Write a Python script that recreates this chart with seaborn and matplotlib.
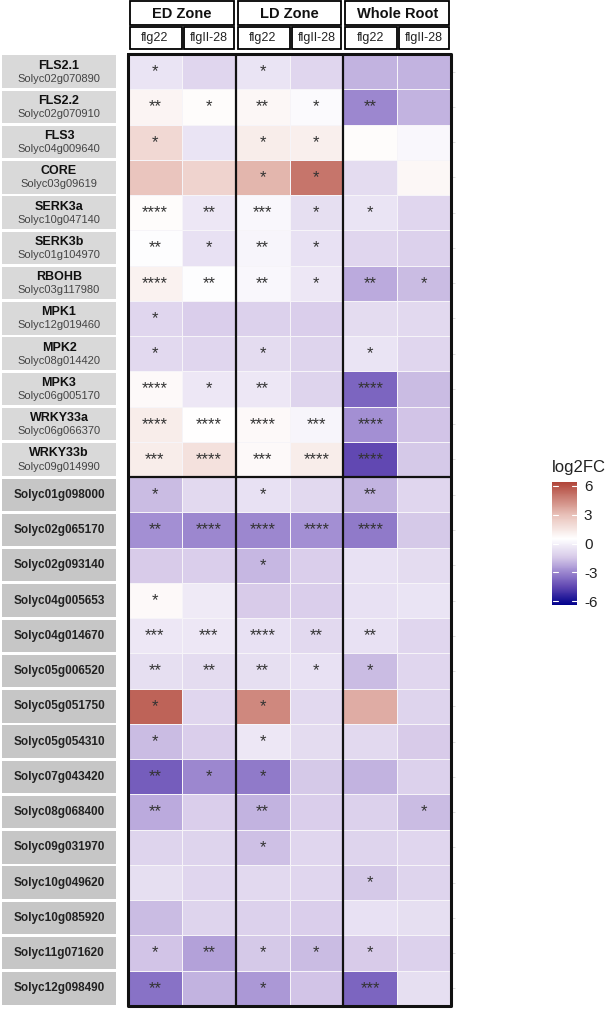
import matplotlib
matplotlib.use("Agg")
import matplotlib.pyplot as plt
from matplotlib.colors import LinearSegmentedColormap
from matplotlib.patches import Rectangle
import pandas as pd
import seaborn as sns
import numpy as np

sns.set_style("white")
plt.rcParams['font.family'] = ['Liberation Sans', 'DejaVu Sans']

# row labels
gene_names = ["FLS2.1", "FLS2.2", "FLS3", "CORE", "SERK3a", "SERK3b", "RBOHB",
              "MPK1", "MPK2", "MPK3", "WRKY33a", "WRKY33b"]
gene_ids = ["Solyc02g070890", "Solyc02g070910", "Solyc04g009640", "Solyc03g09619",
            "Solyc10g047140", "Solyc01g104970", "Solyc03g117980", "Solyc12g019460",
            "Solyc08g014420", "Solyc06g005170", "Solyc06g066370", "Solyc09g014990"]
other_ids = ["Solyc01g098000", "Solyc02g065170", "Solyc02g093140", "Solyc04g005653",
             "Solyc04g014670", "Solyc05g006520", "Solyc05g051750", "Solyc05g054310",
             "Solyc07g043420", "Solyc08g068400", "Solyc09g031970", "Solyc10g049620",
             "Solyc10g085920", "Solyc11g071620", "Solyc12g098490"]

zones = ["ED Zone", "LD Zone", "Whole Root"]
treatments = ["flg22", "flgII-28"]

# log2FC per column
ed_flg22 = [-0.5, 0.9, 2.0, 2.8, 0.6, 0.4, 1.0, -1.0, -0.9, 0.7, 1.2, 1.2,
            -1.8, -2.8, -1.4, 0.7, -0.4, -0.7, 5.5, -1.8, -4.0, -2.2, -1.1, -0.7, -1.8, -1.6, -3.5]
ed_flg2 = [-1.0, 0.6, -0.5, 2.2, -0.4, -0.6, 0.4, -1.3, -1.0, -0.4, 0.5, 1.7,
           -0.9, -3.0, -1.3, -0.3, -0.4, -0.8, -1.0, -1.3, -3.0, -1.3, -1.1, -1.0, -1.1, -2.4, -2.0]
ld_flg22 = [-0.5, 0.8, 1.2, 3.3, 0.2, 0.1, 0.2, -1.2, -0.8, -0.4, 0.7, 0.7,
            -0.6, -3.0, -1.9, -1.4, -0.6, -0.7, 4.5, -0.4, -3.3, -2.0, -1.7, -0.9, -1.2, -1.5, -2.6]
ld_flg2 = [-1.0, 0.3, 1.1, 5.0, -0.7, -0.6, -0.4, -1.3, -1.1, -1.1, 0.1, 1.2,
           -0.9, -2.8, -1.3, -1.3, -0.9, -0.6, -0.9, -0.8, -1.5, -1.3, -1.0, -1.0, -1.3, -1.8, -1.6]
wr_flg22 = [-2.0, -3.0, 0.6, -0.8, -0.5, -1.0, -2.2, -0.8, -0.5, -3.8, -2.8, -4.5,
            -2.0, -3.3, -0.6, -0.6, -0.6, -1.8, 3.5, -0.9, -2.0, -1.2, -1.1, -1.5, -0.6, -1.4, -3.8]
wr_flg2 = [-2.0, -2.0, 0.2, 0.8, -1.0, -1.2, -1.8, -0.9, -1.0, -1.8, -1.6, -1.5,
           -1.0, -1.5, -0.8, -0.5, -1.0, -1.0, -1.1, -1.4, -1.2, -1.8, -1.0, -1.1, -0.7, -1.2, -0.7]

# significance
sig_ed_flg22 = ["*", "**", "*", "", "****", "**", "****", "*", "*", "****", "****", "***",
                "*", "**", "", "*", "***", "**", "*", "*", "**", "**", "", "", "", "*", "**"]
sig_ed_flg2 = ["", "*", "", "", "**", "*", "**", "", "", "*", "****", "****",
               "", "****", "", "", "***", "**", "", "", "*", "", "", "", "", "**", ""]
sig_ld_flg22 = ["*", "**", "*", "*", "***", "**", "**", "", "*", "**", "****", "***",
                "*", "****", "*", "", "****", "**", "*", "*", "*", "**", "*", "", "", "*", "*"]
sig_ld_flg2 = ["", "*", "*", "*", "*", "*", "*", "", "", "", "***", "****",
               "", "****", "", "", "**", "*", "", "", "", "", "", "", "", "*", ""]
sig_wr_flg22 = ["", "**", "", "", "*", "", "**", "", "*", "****", "****", "****",
                "**", "****", "", "", "**", "*", "", "", "", "", "", "*", "", "*", "***"]
sig_wr_flg2 = ["", "", "", "", "", "", "*", "", "", "", "", "",
               "", "", "", "", "", "", "", "", "", "*", "", "", "", "", ""]

row_keys = gene_ids + other_ids
cols = ["ED_flg22", "ED_flgII-28", "LD_flg22", "LD_flgII-28", "WR_flg22", "WR_flgII-28"]
df = pd.DataFrame(dict(zip(cols, [ed_flg22, ed_flg2, ld_flg22, ld_flg2, wr_flg22, wr_flg2])),
                  index=row_keys)
stars = pd.DataFrame(dict(zip(cols, [sig_ed_flg22, sig_ed_flg2, sig_ld_flg22, sig_ld_flg2,
                                     sig_wr_flg22, sig_wr_flg2])), index=row_keys)

vmin, vmax = -6.4, 6.4
nodes = [(-6.4, "#00008b"), (-4.5, "#6148b2"), (-3.0, "#9b86cf"), (-1.5, "#d5c8e8"),
         (0.5, "#ffffff"), (3.0, "#e8c0b8"), (6.4, "#b04438")]
cmap = LinearSegmentedColormap.from_list(
    "l2fc", [((v - vmin) / (vmax - vmin), c) for v, c in nodes])

W, H = 606, 1009
fig = plt.figure(figsize=(W / 100, H / 100), dpi=100)

def fx(px):
    return px / W

def fy(px):
    return 1 - px / H

top, bottom = 54, 1006
left, right = 128, 451
ax = fig.add_axes([fx(left), fy(bottom), fx(right - left), (bottom - top) / H])
cax = fig.add_axes([fx(552), fy(605), fx(25), 123 / H])

sns.heatmap(df, ax=ax, cmap=cmap, vmin=vmin, vmax=vmax, annot=stars, fmt="",
            annot_kws={"fontsize": 12, "color": "#333333"},
            linewidths=0.4, linecolor="#f6f4f8", cbar_ax=cax)

ax.set_xticks([])
ax.set_xlabel("")
ax.set_ylabel("")
ax.yaxis.tick_right()
ax.tick_params(axis="y", right=True, left=False, length=3, width=0.6,
               color="#d8d8d8", labelright=False, labelleft=False)
nrow = len(row_keys)
ax.plot([0, 6, 6, 0, 0], [0, 0, nrow, nrow, 0], color="#111111", lw=2.2, clip_on=False)
for xz in [2, 4]:
    ax.plot([xz, xz], [0, nrow], color="#111111", lw=1.6)
ax.plot([0, 6], [len(gene_names), len(gene_names)], color="#111111", lw=1.6)

# colorbar
cb = ax.collections[0].colorbar
cb.set_ticks([6, 3, 0, -3, -6])
cb.set_ticklabels(["6", "3", "0", "-3", "-6"])
cb.outline.set_visible(False)
cax.tick_params(length=0, labelsize=11, pad=5, colors="#222222")
for t in [6, 3, 0, -3, -6]:
    cax.plot([0.02, 0.22], [t, t], color="white", lw=0.8, transform=cax.get_yaxis_transform())
    cax.plot([0.78, 0.98], [t, t], color="white", lw=0.8, transform=cax.get_yaxis_transform())
cax.set_title("log2FC", fontsize=12, loc="left", pad=7, color="#222222")

# header boxes
hax = fig.add_axes([fx(left), fy(51), fx(right - left), 51 / H])
hax.set_xlim(0, 6)
hax.set_ylim(51, 0)
hax.axis("off")
for z, zname in enumerate(zones):
    hax.add_patch(Rectangle((2 * z + 0.04, 1), 1.92, 24, facecolor="white",
                            edgecolor="black", lw=1.3))
    hax.text(2 * z + 1, 13.5, zname, ha="center", va="center", fontsize=10.5,
             fontweight="bold", color="#111111")
    for k, tr in enumerate(treatments):
        j = 2 * z + k
        hax.add_patch(Rectangle((j + 0.04, 27), 0.96 if k == 0 else 0.92, 22,
                                facecolor="white", edgecolor="black", lw=1.3))
        hax.text(j + 0.5, 38.5, tr, ha="center", va="center", fontsize=9, color="#222222")

# row label boxes
lax = fig.add_axes([fx(2), fy(bottom), fx(114), (bottom - top) / H])
lax.set_xlim(0, 1)
lax.set_ylim(nrow, 0)
lax.axis("off")
for i in range(nrow):
    named = i < len(gene_names)
    lax.add_patch(Rectangle((0, i + 0.04), 1, 0.92,
                            facecolor="#d9d9d9" if named else "#c6c6c6", edgecolor="none"))
    if named:
        lax.text(0.5, i + 0.33, gene_names[i], ha="center", va="center",
                 fontsize=9, fontweight="bold", color="#111111")
        lax.text(0.5, i + 0.7, gene_ids[i], ha="center", va="center",
                 fontsize=8, color="#444444")
    else:
        lax.text(0.5, i + 0.5, other_ids[i - len(gene_names)], ha="center", va="center",
                 fontsize=8.5, fontweight="bold", color="#222222")

fig.savefig("out.png", dpi=100)
